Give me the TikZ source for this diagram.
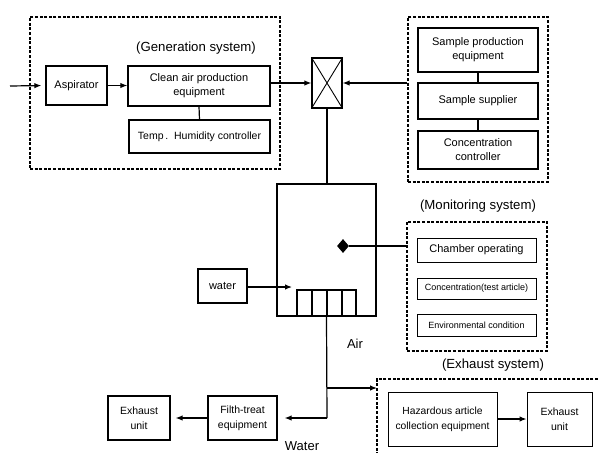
\documentclass[tikz,border=0pt]{standalone}
\usepackage{fontspec}
\setmainfont{Liberation Sans}
\usetikzlibrary{arrows.meta,shapes.geometric}
\begin{document}
\begin{tikzpicture}[x=1pt,y=-1pt,
  box/.style={draw,line width=1.3pt,inner sep=1pt,align=center,font=\fontsize{11}{14}\selectfont},
  tbox/.style={draw,line width=1pt,inner sep=1pt,align=center,font=\fontsize{11}{14}\selectfont},
  dbox/.style={draw,line width=1.2pt,dash pattern=on 3pt off 1.6pt},
  ttl/.style={font=\fontsize{13.2}{15}\selectfont},
  ln/.style={line width=1.2pt},
  arr/.style={line width=1.2pt,-{Latex[length=7pt,width=5.5pt]}}]
\useasboundingbox (0,0) rectangle (598,453);
% generation system
\node[dbox,minimum width=250,minimum height=152] (gen) at (155,93) {};
\node[ttl] (gent) at (196,48) {(Generation system)};
\node[box,minimum width=61,minimum height=39] (asp) at (76.5,85.5) {Aspirator};
\node[box,minimum width=142,minimum height=40] (clean) at (199,86) {Clean air production\\equipment};
\node[box,minimum width=141,minimum height=33,font=\fontsize{10.5}{13}\selectfont] (temp) at (199.5,136.5) {Temp\,.\ \ Humidity controller};
\coordinate (in) at (10,86);
\draw[arr,shorten >=4pt] (in) -- (asp.west);
\draw[arr] (asp.east) -- (asp.east -| clean.west);
\draw[ln] (clean.south) -- (temp.north);
% mixing valve
\node[draw,line width=1.3pt,minimum width=30,minimum height=50,inner sep=0pt] (xb) at (327,83) {};
\draw[line width=0.9pt] (xb.north west) -- (xb.south east) (xb.north east) -- (xb.south west);
\draw[arr] (clean.east |- xb.west) -- (xb.west);
% sample system
\node[dbox,minimum width=140,minimum height=165] (samp) at (478,99.5) {};
\node[box,minimum width=120,minimum height=44] (sp) at (478,50) {Sample production\\equipment};
\node[box,minimum width=120,minimum height=36] (ss) at (478,101) {Sample supplier};
\node[box,minimum width=120,minimum height=38] (cc) at (478,150) {Concentration\\controller};
\draw[ln] (sp.south) -- (ss.north);
\draw[ln] (ss.south) -- (cc.north);
\draw[arr] (samp.west |- xb.east) -- (xb.east);
% chamber
\node[draw,line width=1.4pt,minimum width=99,minimum height=132,inner sep=0pt] (ch) at (326.5,250) {};
\draw[ln] (xb.south) -- (xb.south |- ch.north);
\node[diamond,fill=black,minimum width=12,minimum height=14,inner sep=0pt] (dia) at (343,246) {};
\node[draw,line width=1.3pt,minimum width=59,minimum height=26,inner sep=0pt] (cells) at (326.5,303) {};
\draw[line width=1.3pt] (312,290) -- (312,316) (327,290) -- (327,316) (342,290) -- (342,316);
\node[box,minimum width=49,minimum height=34] (water) at (222.5,286) {water};
\coordinate (win) at (292,287);
\draw[arr] (water.east |- win) -- (win);
% monitoring
\node[ttl] (mont) at (478,206) {(Monitoring system)};
\node[dbox,minimum width=140,minimum height=129] (mon) at (477,286.5) {};
\node[tbox,minimum width=119,minimum height=24] (co) at (476.5,250) {Chamber operating};
\node[tbox,minimum width=119,minimum height=21,font=\fontsize{9}{11}\selectfont] (ct) at (476.5,288.5) {Concentration(test article)};
\node[tbox,minimum width=119,minimum height=22,font=\fontsize{9}{11}\selectfont] (ec) at (476.5,325) {Environmental condition};
\draw[ln] (dia.east) -- (mon.west |- dia.east);
% outlet
\node[font=\fontsize{13}{15}\selectfont] (air) at (355,344) {Air};
\coordinate (turn) at (327,418);
\coordinate (br) at (327,388);
\coordinate (exin) at (377,388);
\draw[ln] (cells.south) -- (turn);
\draw[arr] (br) -- (exin);
% exhaust system
\node[ttl] (ext) at (493,365) {(Exhaust system)};
\draw[dbox] (598,379) -- (377,379) -- (377,453);
\node[tbox,minimum width=109,minimum height=54,font=\fontsize{10.3}{15}\selectfont] (haz) at (442.5,419) {Hazardous article\\collection equipment};
\node[tbox,minimum width=65,minimum height=54,font=\fontsize{10.5}{15}\selectfont] (ex2) at (559.5,419) {Exhaust\\unit};
\draw[arr] (haz.east) -- (ex2.west);
% water treatment
\node[box,minimum width=69,minimum height=44,font=\fontsize{10.5}{15}\selectfont] (filth) at (242.5,418) {Filth-treat\\equipment};
\node[box,minimum width=62,minimum height=44,font=\fontsize{10.5}{15}\selectfont] (ex1) at (139,418) {Exhaust\\unit};
\draw[arr,shorten >=7pt] (turn) -- (filth.east);
\draw[arr,shorten >=5pt] (filth.west) -- (ex1.east);
\node[font=\fontsize{13}{15}\selectfont] (wl) at (302,446) {Water};
\end{tikzpicture}
\end{document}
